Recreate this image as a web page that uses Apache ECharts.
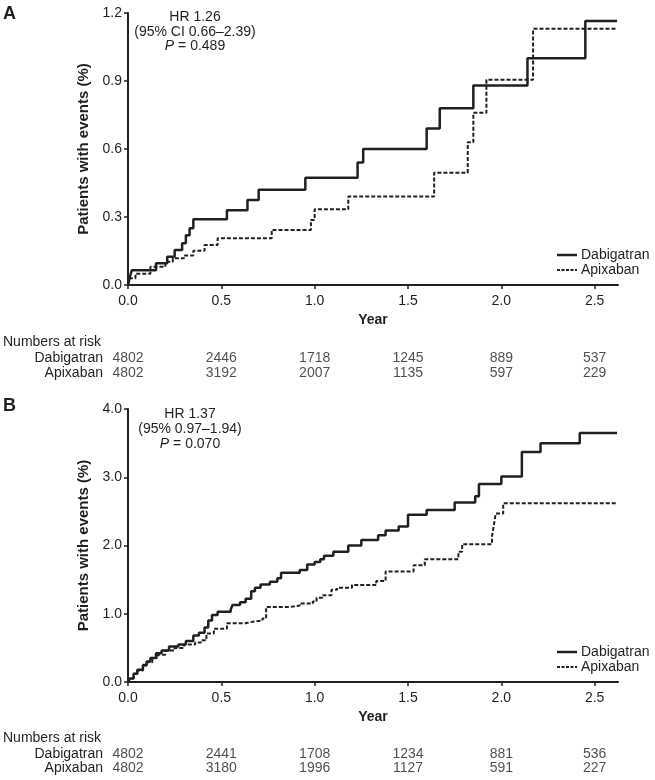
<!DOCTYPE html>
<html><head><meta charset="utf-8">
<script src="https://cdn.jsdelivr.net/npm/echarts@6/dist/echarts.min.js"></script>
<style>html,body{margin:0;padding:0;background:#fff}#c{width:655px;height:780px}</style>
</head><body><div id="c"></div>
<script>
// ---------- data ----------
const xTicks = [0, 0.5, 1.0, 1.5, 2.0, 2.5];
const riskRows = ['Dabigatran', 'Apixaban'];
// Panel A: [year, % with events]
const dabiA = [[0,0],[0.01,0.035],[0.02,0.065],[0.15,0.096],[0.21,0.125],[0.25,0.154],[0.29,0.184],[0.31,0.22],[0.33,0.25],[0.35,0.29],[0.53,0.33],[0.64,0.375],[0.70,0.42],[0.95,0.473],[1.23,0.54],[1.26,0.60],[1.60,0.69],[1.67,0.78],[1.85,0.88],[2.14,1.0],[2.45,1.165],[2.62,1.165]];
const apixA = [[0,0],[0.01,0.03],[0.04,0.05],[0.12,0.08],[0.20,0.103],[0.24,0.118],[0.30,0.13],[0.35,0.151],[0.41,0.176],[0.48,0.206],[0.77,0.243],[0.98,0.287],[1.00,0.334],[1.18,0.39],[1.64,0.495],[1.82,0.63],[1.85,0.76],[1.92,0.905],[2.17,1.13],[2.62,1.13]];
// Panel B
const dabiB = [[0,0],[0.01,0.05],[0.03,0.12],[0.05,0.18],[0.08,0.25],[0.10,0.30],[0.12,0.35],[0.15,0.42],[0.18,0.46],[0.22,0.52],[0.27,0.55],[0.31,0.60],[0.35,0.68],[0.38,0.72],[0.41,0.80],[0.43,0.90],[0.45,0.98],[0.48,1.03],[0.55,1.06],[0.56,1.13],[0.60,1.17],[0.63,1.22],[0.66,1.33],[0.68,1.38],[0.71,1.43],[0.76,1.47],[0.80,1.52],[0.82,1.60],[0.92,1.64],[0.96,1.72],[1.00,1.76],[1.03,1.80],[1.05,1.85],[1.10,1.91],[1.18,2.00],[1.25,2.08],[1.34,2.15],[1.38,2.22],[1.45,2.28],[1.50,2.45],[1.60,2.52],[1.75,2.63],[1.86,2.72],[1.88,2.90],[2.00,3.01],[2.11,3.37],[2.21,3.50],[2.42,3.65],[2.62,3.65]];
const apixB = [[0,0],[0.01,0.05],[0.03,0.12],[0.05,0.17],[0.08,0.24],[0.10,0.29],[0.13,0.35],[0.16,0.40],[0.20,0.46],[0.25,0.50],[0.30,0.55],[0.36,0.58],[0.39,0.61],[0.42,0.71],[0.46,0.78],[0.53,0.86],[0.63,0.875],[0.65,0.90],[0.72,0.93],[0.74,1.10],[0.87,1.12],[0.92,1.15],[0.99,1.18],[1.01,1.235],[1.04,1.27],[1.09,1.35],[1.12,1.38],[1.20,1.42],[1.33,1.48],[1.38,1.62],[1.53,1.71],[1.59,1.80],[1.77,1.91],[1.79,2.02],[1.95,2.13],[1.96,2.30],[1.97,2.47],[2.01,2.62],[2.62,2.62]];
// Numbers at risk
const riskDabiA = [4802, 2446, 1718, 1245, 889, 537];
const riskApixA = [4802, 3192, 2007, 1135, 597, 229];
const riskDabiB = [4802, 2441, 1708, 1234, 881, 536];
const riskApixB = [4802, 3180, 1996, 1127, 591, 227];
// Annotations
const annA = ['HR 1.26', '(95% CI 0.66–2.39)', '0.489'];
const annB = ['HR 1.37', '(95% 0.97–1.94)', '0.070'];
const legendNames = ['Dabigatran', 'Apixaban'];

// ---------- build ----------
const FONT = "'Liberation Sans', Arial, sans-serif";
const INK = '#231f20';
const XMAX = 2.625;
const chart = echarts.init(document.getElementById('c'), null, {renderer: 'canvas'});

const grids = [
  {left: 128, top: 13, width: 490, height: 272},
  {left: 128, top: 409, width: 490, height: 273},
  {left: 128, top: 351, width: 490, height: 29},
  {left: 128, top: 747, width: 490, height: 28}
];

function plotX(gi) {
  return {
    type: 'value', gridIndex: gi, min: 0, max: XMAX, interval: 0.5,
    name: 'Year', nameLocation: 'middle', nameGap: 28,
    nameTextStyle: {fontFamily: FONT, fontSize: 14, fontWeight: 'bold', color: INK},
    axisLine: {show: true, onZero: false, lineStyle: {color: INK, width: 2}},
    axisTick: {show: true, length: 4, lineStyle: {color: INK, width: 1.5}, customValues: xTicks},
    axisLabel: {fontFamily: FONT, fontSize: 14, color: INK, margin: 9, customValues: xTicks,
      formatter: v => v.toFixed(1)},
    splitLine: {show: false}
  };
}
function plotY(gi, max, interval) {
  return {
    type: 'value', gridIndex: gi, min: 0, max: max, interval: interval,
    name: 'Patients with events (%)', nameLocation: 'middle', nameGap: 34, nameRotate: 90,
    nameTextStyle: {fontFamily: FONT, fontSize: 15, fontWeight: 'bold', color: INK},
    axisLine: {show: true, lineStyle: {color: INK, width: 2}},
    axisTick: {show: true, length: 4, lineStyle: {color: INK, width: 1.5}},
    axisLabel: {fontFamily: FONT, fontSize: 14, color: INK, margin: 6, formatter: v => v.toFixed(1)},
    splitLine: {show: false}
  };
}
function tableX(gi) {
  return {type: 'value', gridIndex: gi, min: 0, max: XMAX, show: false};
}
function tableY(gi) {
  return {type: 'category', gridIndex: gi, data: riskRows, inverse: true,
    axisLine: {show: false}, axisTick: {show: false},
    axisLabel: {interval: 0, fontFamily: FONT, fontSize: 14, color: INK, margin: 25}};
}
function kmSeries(name, data, xi, yi, dashed) {
  return {
    name: name, type: 'line', xAxisIndex: xi, yAxisIndex: yi, data: data, step: 'end',
    symbol: 'none', animation: false, z: dashed ? 3 : 2, color: INK,
    lineStyle: dashed ? {color: INK, width: 2, type: [4, 2]} : {color: INK, width: 2.5}
  };
}
function riskSeries(vals, row, xi, yi) {
  return {
    type: 'scatter', xAxisIndex: xi, yAxisIndex: yi, symbolSize: 0, animation: false,
    data: vals.map((v, i) => [xTicks[i], row, v]),
    label: {show: true, position: 'inside', formatter: p => String(p.value[2]),
      fontFamily: FONT, fontSize: 14, color: INK}
  };
}
function annotation(lines, cx, ys) {
  const st = {fontFamily: FONT, fontSize: 14, fill: INK, textAlign: 'center', textVerticalAlign: 'middle'};
  return [
    {type: 'text', x: cx, y: ys[0], style: Object.assign({text: lines[0]}, st)},
    {type: 'text', x: cx, y: ys[1], style: Object.assign({text: lines[1]}, st)},
    {type: 'text', x: cx, y: ys[2], style: Object.assign({
      text: '{i|P} = ' + lines[2],
      rich: {i: {fontStyle: 'italic', fontFamily: FONT, fontSize: 14, fill: INK}}
    }, st)}
  ];
}
function legendGraphic(y0) {
  const out = [];
  legendNames.forEach((n, i) => {
    const y = y0 + i * 15;
    out.push({type: 'line', shape: {x1: 557, y1: y, x2: 577, y2: y},
      style: i === 0 ? {stroke: INK, lineWidth: 2.5} : {stroke: INK, lineWidth: 2, lineDash: [3, 1.5]}});
    out.push({type: 'text', x: 581, y: y, style: {text: n, fontFamily: FONT, fontSize: 14, fill: INK, textVerticalAlign: 'middle'}});
  });
  return out;
}

const option = {
  animation: false,
  grid: grids,
  xAxis: [plotX(0), plotX(1), tableX(2), tableX(3)],
  yAxis: [plotY(0, 1.2, 0.3), plotY(1, 4.0, 1.0), tableY(2), tableY(3)],
  series: [
    kmSeries('Dabigatran', dabiA, 0, 0, false),
    kmSeries('Apixaban', apixA, 0, 0, true),
    kmSeries('Dabigatran', dabiB, 1, 1, false),
    kmSeries('Apixaban', apixB, 1, 1, true),
    riskSeries(riskDabiA, 'Dabigatran', 2, 2),
    riskSeries(riskApixA, 'Apixaban', 2, 2),
    riskSeries(riskDabiB, 'Dabigatran', 3, 3),
    riskSeries(riskApixB, 'Apixaban', 3, 3)
  ],
  graphic: [
    {type: 'text', x: 3, y: 5, style: {text: 'A', fontFamily: FONT, fontSize: 18, fontWeight: 'bold', fill: INK}},
    {type: 'text', x: 3, y: 397, style: {text: 'B', fontFamily: FONT, fontSize: 18, fontWeight: 'bold', fill: INK}},
    {type: 'text', x: 3, y: 342, style: {text: 'Numbers at risk', fontFamily: FONT, fontSize: 14, fill: INK, textVerticalAlign: 'middle'}},
    {type: 'text', x: 3, y: 738, style: {text: 'Numbers at risk', fontFamily: FONT, fontSize: 14, fill: INK, textVerticalAlign: 'middle'}}
  ].concat(annotation(annA, 195, [17, 32, 46]))
   .concat(annotation(annB, 190, [414, 429, 444]))
   .concat(legendGraphic(255)).concat(legendGraphic(652))
};
chart.setOption(option);
</script>
</body></html>
